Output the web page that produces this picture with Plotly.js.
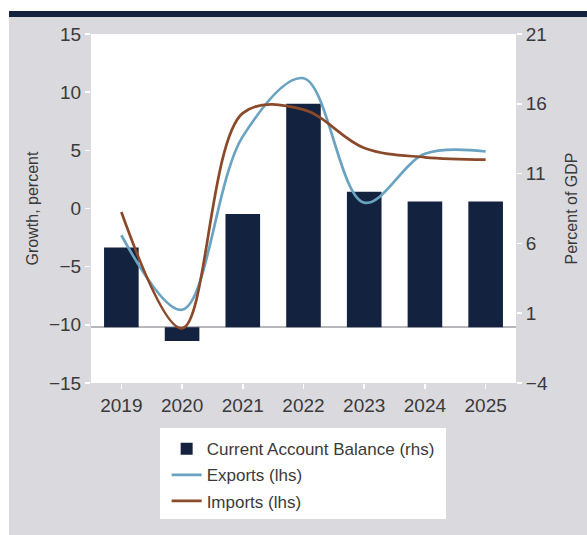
<!DOCTYPE html>
<html>
<head>
<meta charset="utf-8">
<script src="https://cdn.plot.ly/plotly-3.0.1.min.js"></script>
<style>
  html, body { margin: 0; padding: 0; background: #ffffff; }
  #wrap { position: relative; width: 587px; height: 535px; overflow: hidden; }
  #band { position: absolute; left: 9px; top: 11px; width: 578px; height: 6px; background: #12223f; }
  #panel { position: absolute; left: 9px; top: 17px; width: 578px; height: 518px; background: #d9d9de; }
  #chart { position: absolute; left: 0; top: 0; width: 587px; height: 535px; }
</style>
</head>
<body>
<div id="wrap">
  <div id="band"></div>
  <div id="panel"></div>
  <div id="chart"></div>
</div>
<script>
// Data
const years = ['2019', '2020', '2021', '2022', '2023', '2024', '2025'];
const currentAccount = [5.7, -1.0, 8.1, 16.0, 9.7, 9.0, 9.0];   // percent of GDP (rhs)
const exportsGrowth = [-2.3, -8.7, 6.2, 11.2, 0.5, 4.7, 4.9];  // growth, percent (lhs)
const importsGrowth = [-0.3, -10.3, 8.2, 8.5, 5.2, 4.4, 4.2];  // growth, percent (lhs)

const leftTicks = [-15, -10, -5, 0, 5, 10, 15];
const rightTicks = [-4, 1, 6, 11, 16, 21];

const FONT = 'Liberation Sans, Arial, sans-serif';
const TXT = '#3a3a3a';

const traces = [
  {
    type: 'bar', name: 'Current Account Balance (rhs)', legendgroup: 'a',
    x: years, y: currentAccount, yaxis: 'y',
    marker: { color: '#12223f', line: { width: 0 } }
  },
  {
    type: 'scatter', mode: 'lines', name: 'Exports (lhs)', legendgroup: 'b',
    x: years, y: exportsGrowth, yaxis: 'y2',
    line: { color: '#6aa3c2', width: 2.7, shape: 'spline', smoothing: 1.0 }
  },
  {
    type: 'scatter', mode: 'lines', name: 'Imports (lhs)', legendgroup: 'c',
    x: years, y: importsGrowth, yaxis: 'y2',
    line: { color: '#8a4a2a', width: 2.7, shape: 'spline', smoothing: 1.0 }
  }
];

const layout = {
  width: 587, height: 535,
  margin: { l: 91, r: 71, t: 34, b: 152, pad: 0 },
  paper_bgcolor: 'rgba(0,0,0,0)',
  plot_bgcolor: '#ffffff',
  font: { family: FONT, color: TXT, size: 17 },
  bargap: 0.43,
  showlegend: true,
  legend: {
    x: 0.178, xanchor: 'left', y: -0.138, yanchor: 'top',
    bgcolor: 'rgba(0,0,0,0)', borderwidth: 0,
    font: { family: FONT, size: 17, color: TXT },
    traceorder: 'grouped', tracegroupgap: 1
  },
  shapes: [
    { type: 'rect', xref: 'paper', yref: 'paper', layer: 'below',
      x0: 0.1624, x1: 0.8353, y0: -0.3897, y1: -0.129,
      fillcolor: '#ffffff', line: { width: 0 } }
  ],
  xaxis: {
    type: 'category', showgrid: false, zeroline: false,
    showline: false,
    ticks: 'outside', ticklen: 5, tickcolor: '#ffffff', tickwidth: 1.5,
    tickfont: { family: FONT, size: 19, color: TXT }
  },
  yaxis: {
    side: 'right', range: [-4, 21], tickvals: rightTicks,
    showgrid: false, zeroline: true, zerolinecolor: '#b8b8bc', zerolinewidth: 1.5,
    ticks: 'outside', ticklen: 5, tickcolor: '#ffffff', tickwidth: 1.5,
    tickfont: { family: FONT, size: 19, color: TXT },
    title: { text: 'Percent of GDP', font: { family: FONT, size: 16, color: TXT }, standoff: 18 }
  },
  yaxis2: {
    overlaying: 'y', side: 'left', range: [-15, 15], tickvals: leftTicks,
    showgrid: false, zeroline: false,
    ticks: 'outside', ticklen: 5, tickcolor: '#ffffff', tickwidth: 1.5,
    tickfont: { family: FONT, size: 19, color: TXT },
    title: { text: 'Growth, percent', font: { family: FONT, size: 16, color: TXT }, standoff: 6 }
  }
};

Plotly.newPlot('chart', traces, layout, { displayModeBar: false, staticPlot: true });
</script>
</body>
</html>
